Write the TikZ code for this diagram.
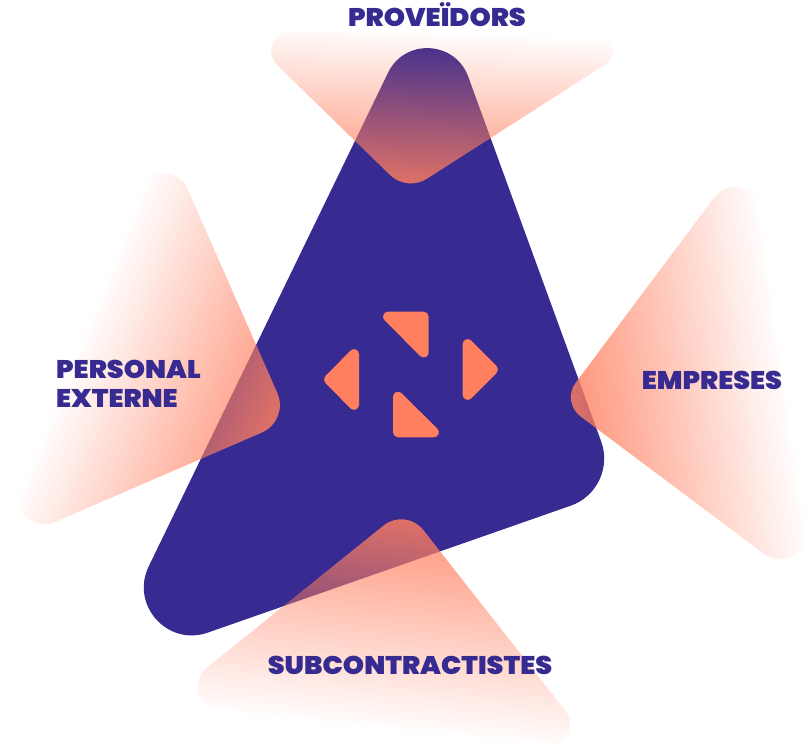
\documentclass[tikz,border=0pt]{standalone}
\usepackage{fontspec}
\usetikzlibrary{fadings}
\newfontfamily\labelfont[FakeStretch=1.06]{Poppins Black}
\definecolor{deepblue}{HTML}{372B91}
\definecolor{coral}{HTML}{FF7F5F}
\tikzfading[name=fadeup,bottom color=transparent!100,top color=transparent!15]
\newcommand\rc[7]{%
  \pgfmathsetmacro\ua{atan2(#2-#4,#1-#3)}%
  \pgfmathsetmacro\ub{atan2(#6-#4,#5-#3)}%
  \pgfmathsetmacro\angd{abs(\ua-\ub)}%
  \pgfmathsetmacro\angd{\angd>180?360-\angd:\angd}%
  \pgfmathsetmacro\tl{#7/tan(\angd/2)}%
  \pgfmathsetmacro\hl{\tl-4/3*tan((180-\angd)/4)*#7}%
  \pgfmathsetmacro\Sx{#3+\tl*cos(\ua)}\pgfmathsetmacro\Sy{#4+\tl*sin(\ua)}%
  \pgfmathsetmacro\Ax{#3+\hl*cos(\ua)}\pgfmathsetmacro\Ay{#4+\hl*sin(\ua)}%
  \pgfmathsetmacro\Ex{#3+\tl*cos(\ub)}\pgfmathsetmacro\Ey{#4+\tl*sin(\ub)}%
  \pgfmathsetmacro\Bx{#3+\hl*cos(\ub)}\pgfmathsetmacro\By{#4+\hl*sin(\ub)}%
  \edef\cornerseg{(\Sx,\Sy) .. controls (\Ax,\Ay) and (\Bx,\By) .. (\Ex,\Ey)}%
}
\newcommand\rtri[9]{%
  \rc{#7}{#8}{#1}{#2}{#4}{#5}{#3}\edef\segA{\cornerseg}%
  \rc{#1}{#2}{#4}{#5}{#7}{#8}{#6}\edef\segB{\cornerseg}%
  \rc{#4}{#5}{#7}{#8}{#1}{#2}{#9}\edef\segC{\cornerseg}%
  \edef\trip{\segA -- \segB -- \segC -- cycle}%
}
\tikzset{
  bigshape/.style={fill=deepblue},
  mark tri/.style={fill=coral},
  glow/.style={fill=coral,path fading=fadeup,fit fading=false},
  lab/.style={text=deepblue,font=\labelfont\fontsize{25.5}{25.5}\selectfont,inner sep=0pt},
}
\begin{document}
\begin{tikzpicture}[x=1pt,y=-1pt]
\useasboundingbox (0,0) rectangle (812,752);
\rtri{433}{-20}{43.6}{618.5}{489}{50}{98}{671}{48}
\path[bigshape] \trip;
\begin{scope}
\rtri{241.5}{30.3}{20}{650.5}{35.6}{16}{407}{191.5}{30}
\clip \trip;
\path[glow,fading transform={shift={(413.3,107.5)},rotate=177.5,xscale=20,yscale=3.1}] (-60,-60) rectangle (880,820);
\end{scope}
\begin{scope}
\rtri{751.7}{147.3}{26}{816.3}{593}{27}{561.3}{402}{24}
\clip \trip;
\path[glow,fading transform={shift={(675.9,388.7)},rotate=98.2,xscale=20,yscale=4.38}] (-60,-60) rectangle (880,820);
\end{scope}
\begin{scope}
\rtri{405.7}{507.7}{28}{598}{752.3}{22.5}{158.7}{706.6}{25.6}
\clip \trip;
\path[glow,fading transform={shift={(391.5,623)},rotate=-5.9,xscale=20,yscale=4.28}] (-60,-60) rectangle (880,820);
\end{scope}
\begin{scope}
\rtri{162.3}{131.7}{26.5}{289.5}{420.6}{30}{-6.5}{548.6}{27.5}
\clip \trip;
\path[glow,fading transform={shift={(183.5,366.7)},rotate=-112,xscale=20,yscale=4.24}] (-60,-60) rectangle (880,820);
\end{scope}
\rtri{428.7}{311.7}{5}{428.7}{364.5}{5}{376}{311.7}{5}
\path[mark tri] \trip;
\rtri{393}{437.3}{5}{393}{384.7}{5}{446}{437.3}{5}
\path[mark tri] \trip;
\rtri{322}{379.5}{5}{359}{342}{5}{359}{417}{5}
\path[mark tri] \trip;
\rtri{462.7}{332}{5}{500}{369.5}{5}{462.7}{407}{5}
\path[mark tri] \trip;
\node[lab,anchor=base] (prov) at (437,26.5) {PROVEÏDORS};
\node[lab,anchor=base] (emp) at (712,389.5) {EMPRESES};
\node[lab,anchor=base] (sub) at (410,674.5) {SUBCONTRACTISTES};
\node[lab,anchor=base west] (pers) at (56,378.5) {PERSONAL};
\node[lab,anchor=base west] (ext) at (56,407) {EXTERNE};
\end{tikzpicture}
\end{document}
